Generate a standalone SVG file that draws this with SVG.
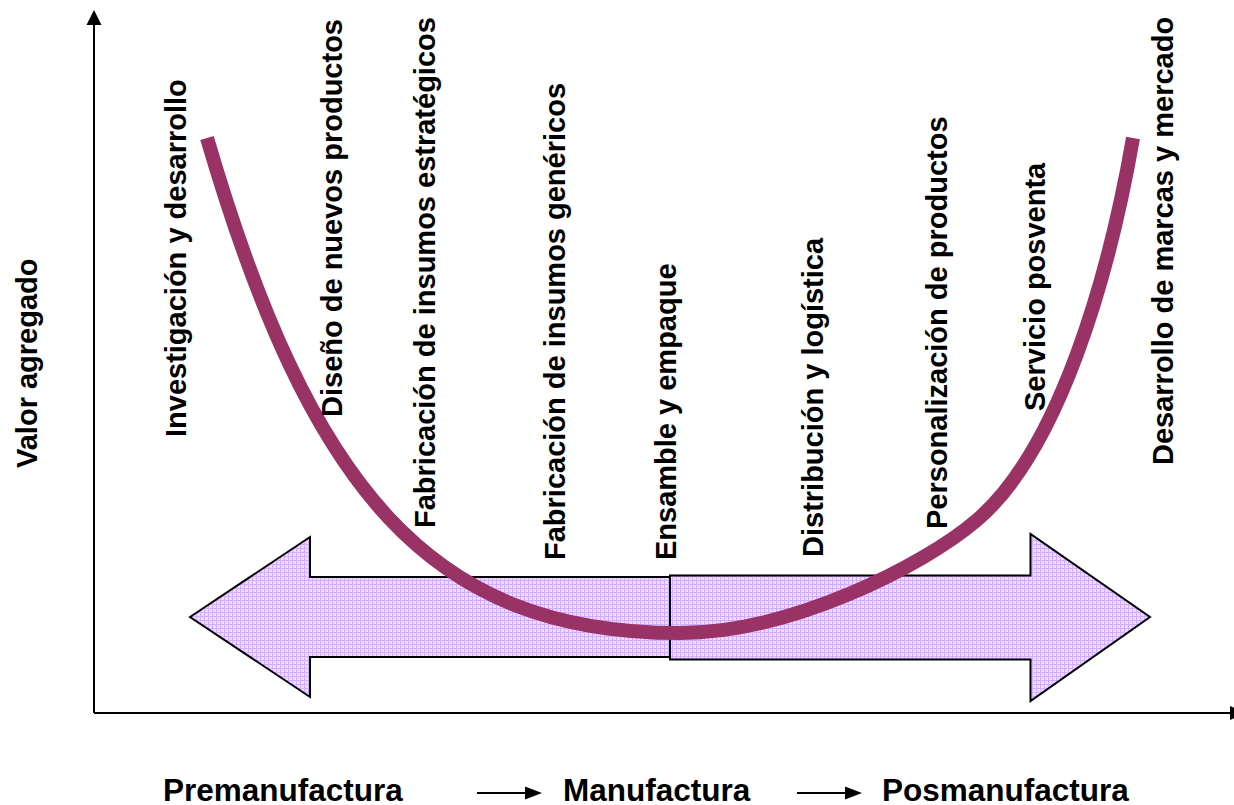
<svg xmlns="http://www.w3.org/2000/svg" width="1234" height="805" viewBox="0 0 1234 805">
<defs>
<pattern id="grid" width="4" height="4" patternUnits="userSpaceOnUse">
<rect width="4" height="4" fill="#ecdcff"/>
<path d="M0 0.5H4M0.5 0V4" stroke="#d2acff" stroke-width="1"/>
</pattern>
</defs>
<style>
.lbl{font-family:"Liberation Sans",Arial,sans-serif;font-weight:bold;font-size:29px;fill:#000}
.phase{font-family:"Liberation Sans",Arial,sans-serif;font-weight:bold;font-size:31.5px;fill:#000}
.bigarrow{fill:url(#grid);stroke:#000;stroke-width:2;stroke-linejoin:miter}
.axis{stroke:#000;stroke-width:2;fill:none}
</style>
<rect width="1234" height="805" fill="#fff"/>

<g id="axes">
<line class="axis" x1="94" y1="713" x2="94" y2="24"/>
<path d="M94 10L86.5 25H101.5Z" fill="#000"/>
<line class="axis" x1="94" y1="713" x2="1232" y2="713"/>
<path d="M1230 706L1246 713L1230 720Z" fill="#000"/>
</g>

<g id="arrow-pre">
<path class="bigarrow" d="M190 617L310 537V577H670V657H310V697Z"/>
</g>
<g id="arrow-post">
<path class="bigarrow" d="M670 575.5H1030.5V534L1150 617L1030.5 701V659.5H670Z"/>
</g>

<g id="curve">
<path d="M207 138C310 490 430 633 680 633C790 633 922.2 566.8 977 520C1059.2 449.8 1109 276 1133 138" fill="none" stroke="#993366" stroke-width="14"/>
</g>

<g id="y-label">
<text class="lbl" transform="translate(36.5 468) rotate(-90)">Valor agregado</text>
</g>
<g id="n1"><text class="lbl" transform="translate(185.5 437) rotate(-90)">Investigación y desarrollo</text></g>
<g id="n2"><text class="lbl" transform="translate(341.5 417) rotate(-90)">Diseño de nuevos productos</text></g>
<g id="n3"><text class="lbl" transform="translate(434.5 528) rotate(-90)">Fabricación de insumos estratégicos</text></g>
<g id="n4"><text class="lbl" transform="translate(564.5 560) rotate(-90)">Fabricación de insumos genéricos</text></g>
<g id="n5"><text class="lbl" transform="translate(675.5 560) rotate(-90)">Ensamble y empaque</text></g>
<g id="n6"><text class="lbl" transform="translate(822.5 557) rotate(-90)">Distribución y logística</text></g>
<g id="n7"><text class="lbl" transform="translate(946.5 529) rotate(-90)">Personalización de productos</text></g>
<g id="n8"><text class="lbl" transform="translate(1044.5 411) rotate(-90)">Servicio posventa</text></g>
<g id="n9"><text class="lbl" transform="translate(1172.5 465) rotate(-90)">Desarrollo de marcas y mercado</text></g>

<g id="phases">
<text class="phase" x="163" y="801">Premanufactura</text>
<text class="phase" x="563" y="801">Manufactura</text>
<text class="phase" x="882" y="801">Posmanufactura</text>
</g>
<g id="connectors">
<line x1="477" y1="793" x2="526" y2="793" stroke="#000" stroke-width="2"/>
<path d="M525 786.5L542 793L525 799.5Z" fill="#000"/>
<line x1="797" y1="793" x2="846" y2="793" stroke="#000" stroke-width="2"/>
<path d="M845 786.5L862 793L845 799.5Z" fill="#000"/>
</g>
</svg>
